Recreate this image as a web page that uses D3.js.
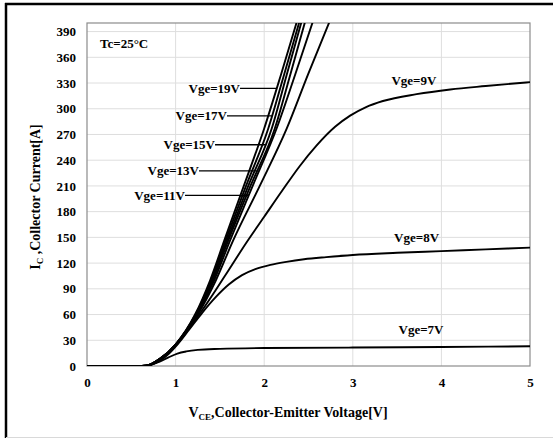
<!DOCTYPE html>
<html>
<head>
<meta charset="utf-8">
<script src="https://cdn.jsdelivr.net/npm/d3@7"></script>
<style>
  body { margin: 0; background: #fff; }
  svg text { font-family: "Liberation Serif", "Times New Roman", serif; font-weight: bold; fill: #000; }
</style>
</head>
<body>
<div id="chart"></div>
<script>
// tick values
const xTicks = [0, 1, 2, 3, 4, 5];
const yTicks = [0, 30, 60, 90, 120, 150, 180, 210, 240, 270, 300, 330, 360, 390];

// output curves, [Vce (V), Ic (A)]
const vge7 = [[0, 0], [0.62, 0], [0.72, 1.5], [0.82, 5], [0.92, 10], [1.02, 14.5], [1.12, 17], [1.25, 18.8], [1.5, 20], [2, 21], [3, 21.5], [4, 22.2], [5, 23]];
const vge8 = [[0, 0], [0.62, 0], [0.72, 1.5], [0.82, 6], [0.92, 14], [1.02, 25], [1.15, 42], [1.3, 62], [1.45, 80], [1.6, 95], [1.75, 106], [1.9, 113], [2.07, 118], [2.25, 121.5], [2.45, 124.5], [2.7, 127], [3, 129.5], [3.5, 132], [4, 134], [4.5, 136], [5, 138]];
const vge9 = [[0, 0], [0.62, 0], [0.72, 1.5], [0.82, 6.5], [0.92, 15], [1.02, 27], [1.15, 44], [1.3, 65], [1.45, 88], [1.6, 112], [1.8, 144], [2.0, 174], [2.2, 204], [2.4, 233], [2.59, 257], [2.8, 279], [2.97, 292], [3.15, 302], [3.34, 309], [3.72, 317], [4.1, 322.5], [4.5, 326.5], [5, 331]];
const vge10 = [[0, 0], [0.62, 0], [0.72, 2], [0.82, 8], [1.01, 25], [1.25, 60], [1.455, 100], [1.65, 146.5], [1.95, 210], [2.255, 277], [2.495, 340], [2.735, 401]];
const vge11 = [[0, 0], [0.62, 0], [0.72, 2], [0.82, 8], [1.005, 25], [1.24, 60], [1.435, 100], [1.615, 146.5], [1.87, 210], [2.14, 277], [2.35, 340], [2.547, 401]];
const vge13 = [[0, 0], [0.62, 0], [0.72, 2], [0.82, 8], [1.0, 25], [1.235, 60], [1.42, 100], [1.595, 146.5], [1.845, 210], [2.12, 277], [2.295, 340], [2.46, 401]];
const vge15 = [[0, 0], [0.62, 0], [0.72, 2], [0.82, 8], [1.0, 25], [1.23, 60], [1.41, 100], [1.58, 146.5], [1.82, 210], [2.085, 277], [2.255, 340], [2.42, 401]];
const vge17 = [[0, 0], [0.62, 0], [0.72, 2], [0.82, 8], [1.0, 25], [1.225, 60], [1.40, 100], [1.565, 146.5], [1.795, 210], [2.046, 277], [2.225, 340], [2.396, 401]];
const vge19 = [[0, 0], [0.62, 0], [0.72, 2], [0.82, 8], [1.0, 25], [1.22, 60], [1.39, 100], [1.55, 146.5], [1.77, 210], [2.0, 277], [2.19, 340], [2.367, 401]];

const curves = [vge7, vge8, vge9, vge10, vge11, vge13, vge15, vge17, vge19];

// labels with leader lines (current where the leader meets its curve)
const leaderNames = ["Vge=19V", "Vge=17V", "Vge=15V", "Vge=13V", "Vge=11V"];
const leaderCurves = [vge19, vge17, vge15, vge13, vge11];
const leaderI = [323.7, 291.6, 258, 227.5, 199];
const leaderTextV = [1.727, 1.58, 1.445, 1.264, 1.106];

// free labels
const plainNames = ["Vge=9V", "Vge=8V", "Vge=7V"];
const plainV = [3.69, 3.72, 3.77];
const plainI = [327.5, 144.7, 37.8];

const W = 553, H = 439;
const margin = { top: 23, right: 23, bottom: 73, left: 87 };

const svg = d3.select("#chart").append("svg")
  .attr("width", W)
  .attr("height", H);

// outer frame (top + left dark, bottom light)
svg.append("line").attr("x1", 5).attr("x2", W).attr("y1", 4).attr("y2", 4)
  .attr("stroke", "#000").attr("stroke-width", 2.5);
svg.append("line").attr("x1", 6).attr("x2", 6).attr("y1", 3).attr("y2", 438)
  .attr("stroke", "#000").attr("stroke-width", 2.5);
svg.append("line").attr("x1", 6).attr("x2", W).attr("y1", 437.5).attr("y2", 437.5)
  .attr("stroke", "#d9d9d9").attr("stroke-width", 1);

const x = d3.scaleLinear().domain([0, 5]).range([margin.left, W - margin.right]);
const y = d3.scaleLinear().domain([0, 400]).range([H - margin.bottom, margin.top]);

// grid
svg.append("g").selectAll("line").data(yTicks.filter(d => d > 0)).join("line")
  .attr("x1", x(0)).attr("x2", x(5))
  .attr("y1", d => y(d)).attr("y2", d => y(d))
  .attr("stroke", "#dedede").attr("stroke-width", 1);
svg.append("g").selectAll("line").data(xTicks.filter(d => d > 0 && d < 5)).join("line")
  .attr("x1", d => x(d)).attr("x2", d => x(d))
  .attr("y1", y(0)).attr("y2", y(400))
  .attr("stroke", "#dedede").attr("stroke-width", 1);

// plot frame
svg.append("rect")
  .attr("x", x(0)).attr("y", y(400))
  .attr("width", x(5) - x(0)).attr("height", y(0) - y(400))
  .attr("fill", "none").attr("stroke", "#8c8c8c").attr("stroke-width", 1.2);

// axes labels
const xAxis = d3.axisBottom(x).tickValues(xTicks).tickSize(0).tickPadding(12).tickFormat(d3.format("d"));
svg.append("g").attr("transform", `translate(0,${y(0)})`).call(xAxis)
  .attr("font-family", null)
  .call(g => g.select(".domain").remove())
  .selectAll("text").style("font-size", "13px");

const yAxis = d3.axisLeft(y).tickValues(yTicks).tickSize(0).tickPadding(11).tickFormat(d3.format("d"));
svg.append("g").attr("transform", `translate(${x(0)},0)`).call(yAxis)
  .attr("font-family", null)
  .call(g => g.select(".domain").remove())
  .selectAll("text").style("font-size", "13px");

// curves
svg.append("clipPath").attr("id", "clip").append("rect")
  .attr("x", x(0)).attr("y", y(400))
  .attr("width", x(5) - x(0)).attr("height", y(0) - y(400));

const line = d3.line()
  .x(d => x(d[0]))
  .y(d => y(d[1]))
  .curve(d3.curveMonotoneX);

svg.append("g").attr("clip-path", "url(#clip)")
  .selectAll("path").data(curves).join("path")
  .attr("d", line)
  .attr("fill", "none")
  .attr("stroke", "#000")
  .attr("stroke-width", 1.9);

// voltage where a curve reaches a given current
function vAt(curve, iv) {
  for (let k = 1; k < curve.length; k++) {
    const a = curve[k - 1], b = curve[k];
    if (b[1] >= iv && a[1] < iv) {
      return a[0] + (iv - a[1]) / (b[1] - a[1]) * (b[0] - a[0]);
    }
  }
  return curve[curve.length - 1][0];
}

leaderNames.forEach((name, k) => {
  const yy = y(leaderI[k]);
  const tx = x(leaderTextV[k]);
  svg.append("line")
    .attr("x1", tx).attr("x2", x(vAt(leaderCurves[k], leaderI[k])))
    .attr("y1", yy).attr("y2", yy)
    .attr("stroke", "#000").attr("stroke-width", 1.3);
  svg.append("text")
    .attr("x", tx).attr("y", yy + 4.5)
    .attr("text-anchor", "end")
    .style("font-size", "13px")
    .text(name);
});

plainNames.forEach((name, k) => {
  svg.append("text")
    .attr("x", x(plainV[k])).attr("y", y(plainI[k]))
    .attr("text-anchor", "middle")
    .style("font-size", "13px")
    .text(name);
});

svg.append("text")
  .attr("x", x(0.147)).attr("y", y(370.7))
  .style("font-size", "13px")
  .text("Tc=25°C");

// axis titles
const xt = svg.append("text")
  .attr("x", 288).attr("y", 417)
  .attr("text-anchor", "middle")
  .style("font-size", "14px");
xt.append("tspan").text("V");
xt.append("tspan").attr("dy", 3).style("font-size", "9px").text("CE");
xt.append("tspan").attr("dy", -3).text(",Collector-Emitter Voltage[V]");

const yt = svg.append("text")
  .attr("transform", "translate(40,197) rotate(-90)")
  .attr("text-anchor", "middle")
  .style("font-size", "14px");
yt.append("tspan").text("I");
yt.append("tspan").attr("dy", 3).style("font-size", "9px").text("C");
yt.append("tspan").attr("dy", -3).text(" ,Collector Current[A]");
</script>
</body>
</html>
